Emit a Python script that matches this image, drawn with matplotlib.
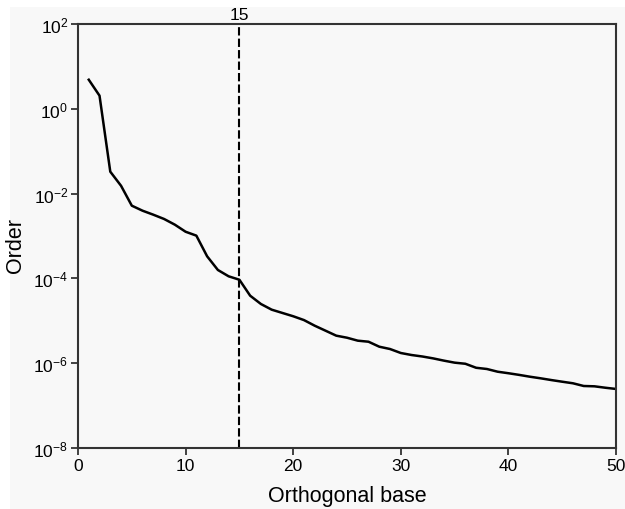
import matplotlib.pyplot as plt
import matplotlib.patches as mpatches
import numpy as np

plt.rcParams['font.family'] = ['Liberation Sans', 'DejaVu Sans']
plt.rcParams['mathtext.fontset'] = 'custom'
plt.rcParams['mathtext.rm'] = 'Liberation Sans'
plt.rcParams['mathtext.it'] = 'Liberation Sans:italic'
plt.rcParams['mathtext.bf'] = 'Liberation Sans:bold'

# values
base = list(range(1, 51))
order = [4.85, 2.04, 3.29e-2, 1.53e-2, 5.19e-3, 3.95e-3, 3.18e-3, 2.52e-3, 1.85e-3, 1.26e-3,
         1.02e-3, 3.32e-4, 1.58e-4, 1.12e-4, 9.3e-5, 3.91e-5, 2.49e-5, 1.83e-5, 1.53e-5, 1.28e-5,
         1.04e-5, 7.66e-6, 5.85e-6, 4.46e-6, 3.99e-6, 3.40e-6, 3.21e-6, 2.45e-6, 2.16e-6, 1.74e-6,
         1.56e-6, 1.44e-6, 1.30e-6, 1.15e-6, 1.03e-6, 9.7e-7, 7.8e-7, 7.3e-7, 6.3e-7, 5.8e-7,
         5.3e-7, 4.8e-7, 4.4e-7, 4.0e-7, 3.66e-7, 3.36e-7, 2.90e-7, 2.85e-7, 2.64e-7, 2.47e-7]
cut = 15
x_ticks = [0, 10, 20, 30, 40, 50]
y_ticks = [1e2, 1e0, 1e-2, 1e-4, 1e-6, 1e-8]
y_labels = [r'$\mathregular{10^{2}}$', r'$\mathregular{10^{0}}$', r'$\mathregular{10^{-2}}$',
            r'$\mathregular{10^{-4}}$', r'$\mathregular{10^{-6}}$', r'$\mathregular{10^{-8}}$']

bg = '#f8f8f8'
fig = plt.figure(figsize=(6.25, 5.1), dpi=100, facecolor='white')
fig.patches.append(mpatches.Rectangle((10 / 625, 0), 1, 1 - 8 / 510, transform=fig.transFigure,
                                      facecolor=bg, edgecolor='none', zorder=-10))
ax = fig.add_axes([78 / 625, 1 - 449 / 510, (616 - 78) / 625, (449 - 25) / 510])
ax.set_facecolor(bg)

ax.plot(base, order, color='black', lw=1.8)
ax.axvline(cut, color='black', lw=1.5, linestyle=(0, (4, 1.5)))
ax.annotate(str(cut), xy=(cut, 1e2), xytext=(0, 3.6), textcoords='offset points',
            ha='center', va='baseline', fontsize=12.5, annotation_clip=False)

ax.set_yscale('log')
ax.set_xlim(0, 50)
ax.set_ylim(1e-8, 1e2)
ax.set_xticks(x_ticks)
ax.set_yticks(y_ticks)
ax.set_yticklabels(y_labels)
ax.minorticks_off()
ax.tick_params(direction='out', length=5, width=1.3, labelsize=12.5, color='#333333', pad=2)
ax.tick_params(top=False, right=False)
for s in ax.spines.values():
    s.set_linewidth(1.5)
    s.set_color('#333333')

ax.set_xlabel('Orthogonal base', fontsize=15.5, labelpad=9)
ax.set_ylabel('Order', fontsize=15.5)
ax.yaxis.set_label_coords(-0.097, 0.48)

fig.savefig('out.png', dpi=100, facecolor=fig.get_facecolor())
